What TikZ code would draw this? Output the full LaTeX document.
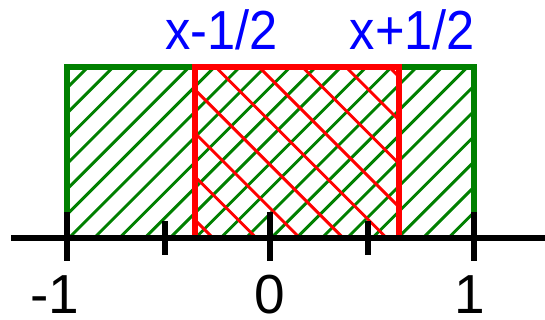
\documentclass[tikz,border=0pt]{standalone}
\usepackage{fontspec}
\setmainfont{Liberation Sans}
\definecolor{grn}{RGB}{0,128,0}
\definecolor{rd}{RGB}{255,0,0}
\definecolor{bl}{RGB}{0,0,255}
\begin{document}
\begin{tikzpicture}[x=1pt,y=-1pt,
  thick line/.style={line width=5.5pt},
  hatchline/.style={line width=2.9pt},
  lbl/.style={anchor=base,inner sep=0pt,font=\fontsize{55}{60}\selectfont},
  toplbl/.style={lbl,text=bl,xscale=0.92,transform shape}]
\useasboundingbox (0,0) rectangle (545,320);
% green hatching
\begin{scope}
  \clip (67,67) rectangle (474,238);
  \foreach \k in {-2,...,24}{
    \pgfmathsetmacro{\c}{155+25.3*\k}
    \draw[grn,hatchline] (\c-40,40) -- (\c-260,260);
  }
\end{scope}
% red hatching
\begin{scope}
  \clip (195,67) rectangle (399,238);
  \foreach \k in {-2,...,10}{
    \pgfmathsetmacro{\d}{-25+43.4*\k}
    \draw[rd,hatchline] (\d+40,40) -- (\d+260,260);
  }
\end{scope}
% rectangles
\draw[grn,thick line] (67,238) -- (67,67) -- (474,67) -- (474,238);
\draw[rd,thick line] (195,238) -- (195,67) -- (399,67) -- (399,238);
% axis
\coordinate (al) at (11,238);
\coordinate (ar) at (545,238);
\draw[black,thick line] (al) -- (ar);
% ticks
\foreach \x in {67,270,474}{\draw[black,thick line] (\x,212) -- (\x,261);}
\foreach \x in {165,368}{\draw[black,thick line] (\x,221) -- (\x,255);}
% labels
\node[toplbl] (lm) at (221.5,49.5) {x-1/2};
\node[toplbl] (lp) at (412.5,49.5) {x+1/2};
\node[lbl] (tm1) at (55,313) {-1};
\node[lbl] (t0) at (270,313) {0};
\node[lbl] (t1) at (470,313) {1};
\end{tikzpicture}
\end{document}
